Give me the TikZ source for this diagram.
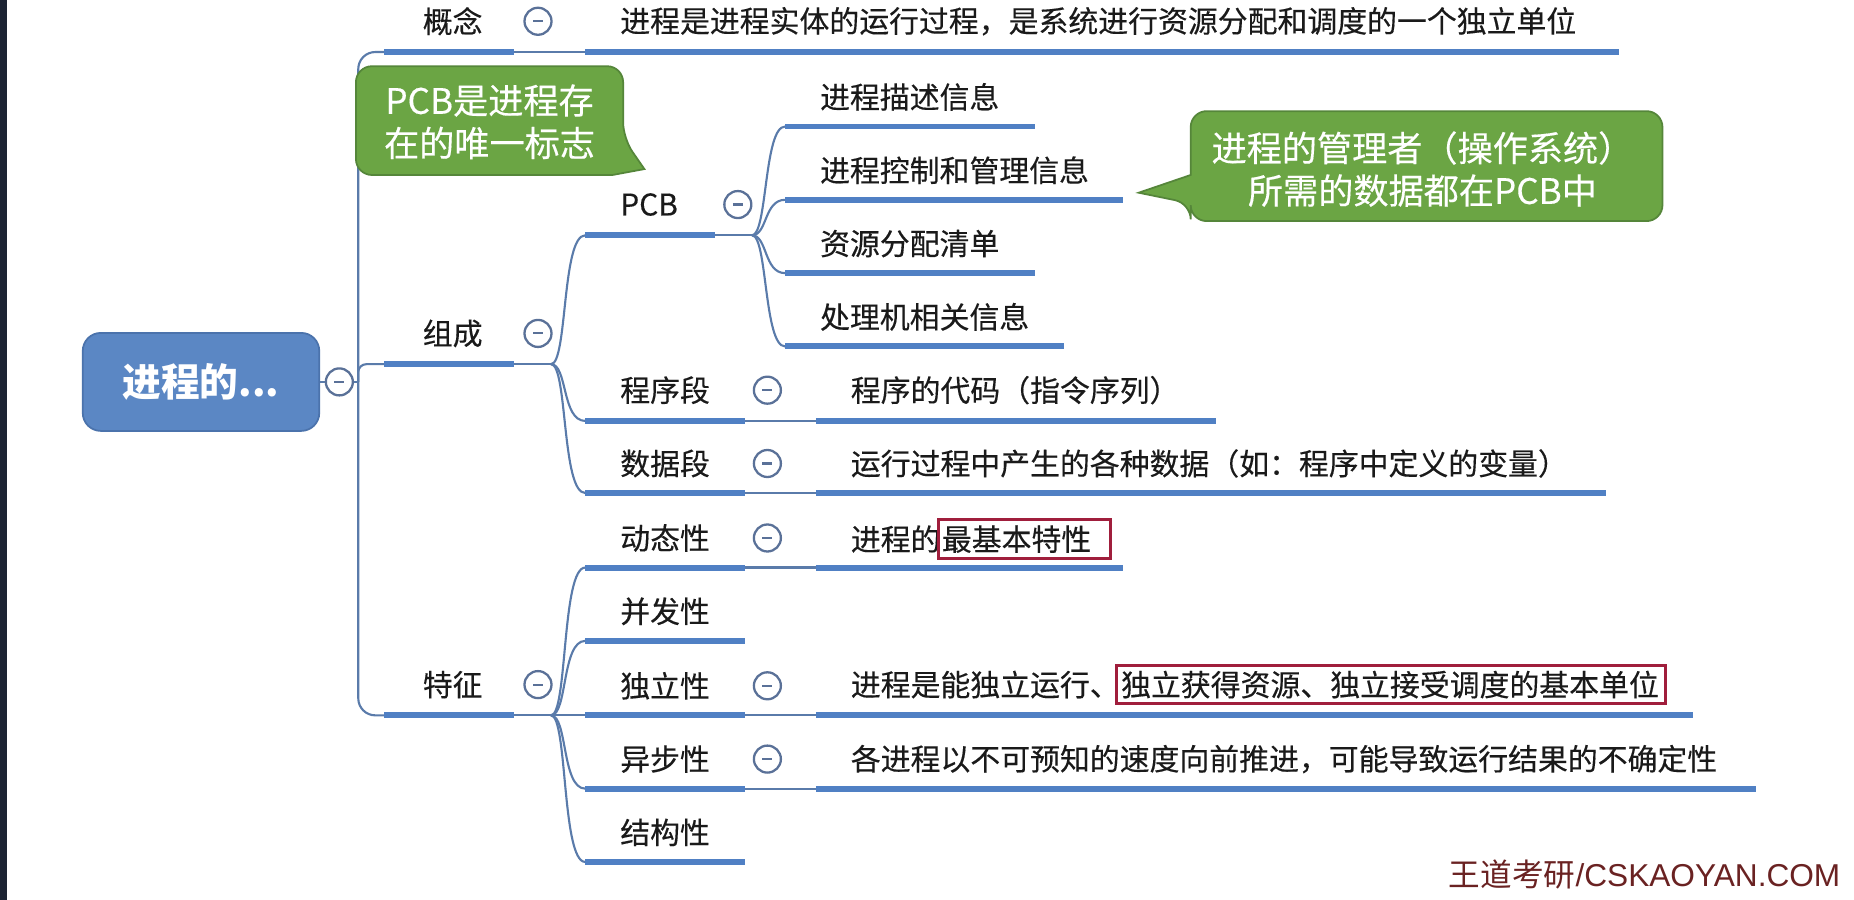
\documentclass[tikz,border=0pt]{standalone}
\usepackage{fontspec}
\setmainfont{Noto Sans CJK SC}
\newfontfamily\medf{Noto Sans CJK SC}[FakeBold=0.3]
\newfontfamily\wmlatin{Liberation Sans}
\usetikzlibrary{calc}
\definecolor{barblue}{HTML}{5080C4}
\definecolor{linkblue}{HTML}{5A7BAA}
\definecolor{rootblue}{HTML}{5B87C4}
\definecolor{rootedge}{HTML}{4B73AC}
\definecolor{circblue}{HTML}{5A7198}
\definecolor{callgreen}{HTML}{6BA544}
\definecolor{callborder}{HTML}{55863A}
\definecolor{boxred}{HTML}{A01E3C}
\definecolor{wmred}{HTML}{6A2222}
\definecolor{txt}{HTML}{1A1A1A}
\definecolor{edgedark}{HTML}{1C2433}
\begin{document}
\begin{tikzpicture}[x=0.11824mm,y=-0.11824mm,
  bar/.style={draw=barblue, line width=1.7pt},
  link/.style={draw=linkblue, line width=0.6pt},
  lbl/.style={anchor=west, inner sep=0pt, font=\medf\fontsize{8.5pt}{10pt}\selectfont, text=txt},
  mcirc/.style={circle, draw=circblue, line width=0.65pt, fill=white, minimum size=2.7mm, inner sep=0pt,
    path picture={\draw[circblue, line width=0.6pt] ([xshift=-0.5mm]path picture bounding box.center) -- ([xshift=0.5mm]path picture bounding box.center);}},
  rootnode/.style={rectangle, rounded corners=1.8mm, fill=rootblue, draw=rootedge, line width=0.5pt,
    minimum width=23.65mm, minimum height=9.8mm, text=white, font=\bfseries\fontsize{11pt}{13pt}\selectfont},
  callout/.style={fill=callgreen, draw=callborder, line width=0.5pt},
  calltxt/.style={align=center, inner sep=0pt, text=white, font=\medf\fontsize{10pt}{12.1pt}\selectfont},
  redbox/.style={draw=boxred, line width=0.85pt}
]
\fill[white] (0,0) rectangle (1568,761);
\useasboundingbox (0,0) rectangle (1568,761);
\fill[edgedark] (0,0) rectangle (6,761);

% ---------- root ----------
\node[rootnode] (root) at (170,323) {进程的...};
\node[mcirc] (rootc) at (287,323) {};
\coordinate (tr) at (303,323);

% ---------- level 1 coordinates ----------
\coordinate (gn-s) at (325,44);  \coordinate (gn-e) at (435,44);
\coordinate (zc-s) at (325,308); \coordinate (zc-e) at (435,308); \coordinate (zc-j) at (466,308);
\coordinate (tz-s) at (325,605); \coordinate (tz-e) at (435,605); \coordinate (tz-j) at (466,605);

\draw[link] (root.east) -- (rootc.west);
\draw[link] (rootc.east) -- (tr);
\draw[link, rounded corners=1.7mm] (tr) |- (gn-s);
\draw[link, rounded corners=1.7mm] (tr) |- (tz-s);
\draw[link, rounded corners=0.8mm] (tr) |- (zc-s);

% ---------- 概念 ----------
\coordinate (gnd-s) at (495,44); \coordinate (gnd-e) at (1369,44);
\draw[link] (gn-e) -- (gnd-s);
\draw[bar] (gn-s) -- (gn-e);
\draw[bar] (gnd-s) -- (gnd-e);
\node[lbl] (gn) at (357,18) {概念};
\node[mcirc] (gn-c) at (455,18) {};
\node[lbl] (gnd) at (524,18) {进程是进程实体的运行过程，是系统进行资源分配和调度的一个独立单位};

% ---------- 组成 ----------
\draw[link] (zc-e) -- (zc-j);
\draw[bar] (zc-s) -- (zc-e);
\node[lbl] (zc) at (357,282) {组成};
\node[mcirc] (zc-c) at (455,282) {};

% PCB
\coordinate (pcb-s) at (495,199); \coordinate (pcb-e) at (605,199); \coordinate (pcb-j) at (636,199);
\draw[link] (zc-j) .. controls +(14,0) and +(-20,0) .. (pcb-s);
\draw[link] (pcb-e) -- (pcb-j);
\draw[bar] (pcb-s) -- (pcb-e);
\node[lbl] (pcb) at (524,173) {PCB};
\node[mcirc] (pcb-c) at (624,173) {};

\foreach \n/\y/\xe/\t in {p1/107/875/进程描述信息, p2/169/950/进程控制和管理信息, p3/231/875/资源分配清单, p4/293/900/处理机相关信息}{
  \coordinate (\n-s) at (664,\y);
  \coordinate (\n-e) at (\xe,\y);
  \draw[link] (pcb-j) .. controls +(13,0) and +(-18,0) .. (\n-s);
  \draw[bar] (\n-s) -- (\n-e);
  \node[lbl] (\n) at (693,\y-25) {\t};
}

% 程序段
\coordinate (cxd-s) at (495,356); \coordinate (cxd-e) at (630,356);
\coordinate (cxdd-s) at (690,356); \coordinate (cxdd-e) at (1028,356);
\draw[link] (zc-j) .. controls +(14,0) and +(-20,0) .. (cxd-s);
\draw[link] (cxd-e) -- (cxdd-s);
\draw[bar] (cxd-s) -- (cxd-e);
\draw[bar] (cxdd-s) -- (cxdd-e);
\node[lbl] (cxd) at (524,330) {程序段};
\node[mcirc] (cxd-c) at (649,330) {};
\node[lbl] (cxdd) at (719,330) {程序的代码（指令序列）};

% 数据段
\coordinate (sjd-s) at (495,417); \coordinate (sjd-e) at (630,417);
\coordinate (sjdd-s) at (690,417); \coordinate (sjdd-e) at (1358,417);
\draw[link] (zc-j) .. controls +(14,0) and +(-20,0) .. (sjd-s);
\draw[link] (sjd-e) -- (sjdd-s);
\draw[bar] (sjd-s) -- (sjd-e);
\draw[bar] (sjdd-s) -- (sjdd-e);
\node[lbl] (sjd) at (524,392) {数据段};
\node[mcirc] (sjd-c) at (649,392) {};
\node[lbl] (sjdd) at (719,392) {运行过程中产生的各种数据（如：程序中定义的变量）};

% ---------- 特征 ----------
\draw[link] (tz-e) -- (tz-j);
\draw[bar] (tz-s) -- (tz-e);
\node[lbl] (tz) at (357,579) {特征};
\node[mcirc] (tz-c) at (455,579) {};

\foreach \n/\y/\t in {f1/480/动态性, f2/542/并发性, f3/605/独立性, f4/667/异步性, f5/729/结构性}{
  \coordinate (\n-s) at (495,\y);
  \coordinate (\n-e) at (630,\y);
  \draw[link] (tz-j) .. controls +(14,0) and +(-20,0) .. (\n-s);
  \draw[bar] (\n-s) -- (\n-e);
  \node[lbl] (\n) at (524,\y-25) {\t};
}

% 动态性 detail
\coordinate (f1d-s) at (690,480); \coordinate (f1d-e) at (950,480);
\draw[link] (f1-e) -- (f1d-s);
\draw[bar] (f1d-s) -- (f1d-e);
\node[mcirc] (f1-c) at (649,455) {};
\node[lbl] (f1d) at (719,456) {进程的};
\node[lbl] (f1b) at (f1d.east) {最基本特性};
\draw[redbox] ($(f1b.north west)+(-2,-4)$) rectangle ($(f1b.south east)+(16,4)$);

% 独立性 detail
\coordinate (f3d-s) at (690,605); \coordinate (f3d-e) at (1432,605);
\draw[link] (f3-e) -- (f3d-s);
\draw[bar] (f3d-s) -- (f3d-e);
\node[mcirc] (f3-c) at (649,580) {};
\node[lbl] (f3d) at (719,579) {进程是能独立运行、};
\node[lbl] (f3b) at (f3d.east) {独立获得资源、独立接受调度的基本单位};
\draw[redbox] ($(f3b.north west)+(-3,-4)$) rectangle ($(f3b.south east)+(5,4)$);

% 异步性 detail
\coordinate (f4d-s) at (690,667); \coordinate (f4d-e) at (1485,667);
\draw[link] (f4-e) -- (f4d-s);
\draw[bar] (f4d-s) -- (f4d-e);
\node[mcirc] (f4-c) at (649,642) {};
\node[lbl] (f4d) at (719,642) {各进程以不可预知的速度向前推进，可能导致运行结果的不确定性};

% ---------- callouts ----------
\draw[callout] (301,102) [rounded corners=1.6mm] |- (527,56) -- (527,117)
   [sharp corners] -- (545,143) -- (518,148) [rounded corners=1.6mm] -- (301,148) -- cycle;
\node[calltxt] (cb1) at (414,103) {PCB是进程存\\在的唯一标志};

\draw[callout] (1007,120) [rounded corners=1.6mm] |- (1406,94) |- (1007,187) -- (1007,172)
   [sharp corners] -- (963,163) -- (1007,148) -- cycle;
\node[calltxt] (cb2) at (1203,143) {进程的管理者（操作系统）\\所需的数据都在PCB中};

% ---------- watermark ----------
\node[anchor=east, inner sep=0pt, text=wmred, font=\fontsize{9pt}{11pt}\selectfont] (wm) at (1557,740) {王道考研{\wmlatin /CSKAOYAN.COM}};
\end{tikzpicture}
\end{document}
